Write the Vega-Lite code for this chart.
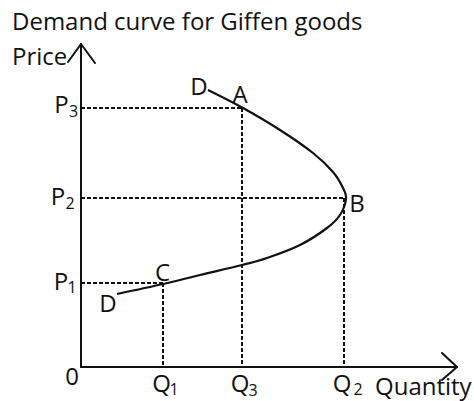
{
  "$schema": "https://vega.github.io/schema/vega-lite/v6.json",
  "width": 474,
  "height": 401,
  "autosize": {"type": "fit", "contains": "padding"},
  "padding": 0,
  "background": "#ffffff",
  "config": {"view": {"stroke": null}},
  "datasets": {
    "curve": [
      {"i": 0, "q": 12.7, "p": 27.7},
      {"i": 1, "q": 16.2, "p": 25.9},
      {"i": 2, "q": 19.9, "p": 23.7},
      {"i": 3, "q": 23.2, "p": 21.4},
      {"i": 4, "q": 25.2, "p": 19.5},
      {"i": 5, "q": 26.2, "p": 17.9},
      {"i": 6, "q": 26.5, "p": 16.8},
      {"i": 7, "q": 25.9, "p": 15.2},
      {"i": 8, "q": 24.6, "p": 13.9},
      {"i": 9, "q": 21.9, "p": 12.2},
      {"i": 10, "q": 18.6, "p": 10.9},
      {"i": 11, "q": 16.1, "p": 10.2},
      {"i": 12, "q": 11.9, "p": 9.2},
      {"i": 13, "q": 8.2, "p": 8.3},
      {"i": 14, "q": 3.6, "p": 7.3}
    ],
    "axes": [
      {"x": 0, "y": 0, "x2": 0, "y2": 32.3},
      {"x": 0, "y": 0, "x2": 37.6, "y2": 0},
      {"x": -1.3, "y": 30.5, "x2": 0, "y2": 32.3},
      {"x": 1.4, "y": 30.4, "x2": 0, "y2": 32.3},
      {"x": 36.1, "y": 1.4, "x2": 37.6, "y2": 0},
      {"x": 36.1, "y": -1.3, "x2": 37.6, "y2": 0}
    ],
    "guides": [
      {"x": 0, "y": 25.9, "x2": 16.1, "y2": 25.9},
      {"x": 16.1, "y": 25.9, "x2": 16.1, "y2": 0},
      {"x": 0, "y": 16.9, "x2": 26.3, "y2": 16.9},
      {"x": 26.3, "y": 16.9, "x2": 26.3, "y2": 0},
      {"x": 0, "y": 8.4, "x2": 8.2, "y2": 8.4},
      {"x": 8.2, "y": 8.4, "x2": 8.2, "y2": 0}
    ],
    "heading": [
      {"t": "Demand curve for Giffen goods", "x": -6.9, "y": 33.7},
      {"t": "Price", "x": -6.9, "y": 30.2},
      {"t": "Quantity", "x": 29.4, "y": -2.8}
    ],
    "letters": [
      {"t": "D", "x": 11.8, "y": 27.2},
      {"t": "A", "x": 15.9, "y": 26.4},
      {"t": "B", "x": 27.6, "y": 15.5},
      {"t": "C", "x": 8.15, "y": 8.6},
      {"t": "D", "x": 2.7, "y": 5.5},
      {"t": "P", "x": -1.95, "y": 25.4},
      {"t": "P", "x": -2.3, "y": 16.2},
      {"t": "P", "x": -2.0, "y": 7.7},
      {"t": "Q", "x": 8.05, "y": -2.5},
      {"t": "Q", "x": 15.9, "y": -2.5},
      {"t": "Q", "x": 26.1, "y": -2.5},
      {"t": "0", "x": -0.9, "y": -1.8}
    ],
    "subs": [
      {"t": "3", "x": -0.75, "y": 25.0},
      {"t": "2", "x": -1.1, "y": 15.8},
      {"t": "1", "x": -0.9, "y": 7.4},
      {"t": "1", "x": 9.3, "y": -2.8},
      {"t": "3", "x": 17.2, "y": -2.9},
      {"t": "2", "x": 27.7, "y": -2.8}
    ]
  },
  "encoding": {
    "x": {"type": "quantitative", "scale": {"domain": [-8.1, 39.3], "nice": false, "zero": false}, "axis": null},
    "y": {"type": "quantitative", "scale": {"domain": [-3.4, 36.7], "nice": false, "zero": false}, "axis": null}
  },
  "layer": [
    {
      "data": {"name": "guides"},
      "mark": {"type": "rule", "color": "#111111", "strokeWidth": 2, "strokeDash": [4, 2]},
      "encoding": {
        "x": {"field": "x", "type": "quantitative"},
        "y": {"field": "y", "type": "quantitative"},
        "x2": {"field": "x2"},
        "y2": {"field": "y2"}
      }
    },
    {
      "data": {"name": "axes"},
      "mark": {"type": "rule", "color": "#111111", "strokeWidth": 2, "strokeCap": "round"},
      "encoding": {
        "x": {"field": "x", "type": "quantitative"},
        "y": {"field": "y", "type": "quantitative"},
        "x2": {"field": "x2"},
        "y2": {"field": "y2"}
      }
    },
    {
      "data": {"name": "curve"},
      "mark": {"type": "line", "color": "#111111", "strokeWidth": 2.2, "interpolate": "cardinal"},
      "encoding": {
        "x": {"field": "q", "type": "quantitative"},
        "y": {"field": "p", "type": "quantitative"},
        "order": {"field": "i", "type": "quantitative"}
      }
    },
    {
      "data": {"name": "heading"},
      "mark": {"type": "text", "font": "Open Sans", "fontSize": 24, "align": "left", "baseline": "alphabetic", "color": "#111111"},
      "encoding": {
        "x": {"field": "x", "type": "quantitative"},
        "y": {"field": "y", "type": "quantitative"},
        "text": {"field": "t"}
      }
    },
    {
      "data": {"name": "letters"},
      "mark": {"type": "text", "font": "Open Sans", "fontSize": 24, "align": "center", "baseline": "alphabetic", "color": "#111111"},
      "encoding": {
        "x": {"field": "x", "type": "quantitative"},
        "y": {"field": "y", "type": "quantitative"},
        "text": {"field": "t"}
      }
    },
    {
      "data": {"name": "subs"},
      "mark": {"type": "text", "font": "Open Sans", "fontSize": 16, "align": "center", "baseline": "alphabetic", "color": "#111111"},
      "encoding": {
        "x": {"field": "x", "type": "quantitative"},
        "y": {"field": "y", "type": "quantitative"},
        "text": {"field": "t"}
      }
    }
  ]
}
